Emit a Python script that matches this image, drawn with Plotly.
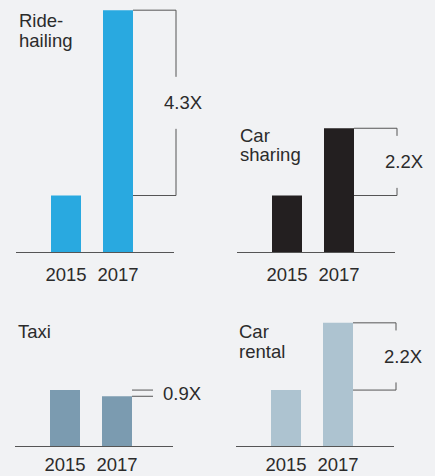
'''
    Growth of shared-mobility segments, 2015 vs 2017, as four small bar panels.
'''
import plotly.graph_objects as go

W, H = 435, 476

# data, indexed to the 2015 level of each segment
segments = ["Ride-<br>hailing", "Car<br>sharing", "Taxi", "Car<br>rental"]
years = ["2015", "2017"]
values_2015 = [1.0, 1.0, 0.99, 0.99]
values_2017 = [4.28, 2.19, 0.88, 2.18]
growth_labels = ["4.3X", "2.2X", "0.9X", "2.2X"]

COLORS = ["#29a9e0", "#231f20", "#7b9bb0", "#adc3d0"]
BG = "#f1f2f4"
TEXT = "#2b2b2b"
LINE = "#555555"
FONT = "Liberation Sans, Arial, sans-serif"
FSIZE = 18.5

PX_PER_UNIT = 56.5
# panel layout in pixels: axis-line left edge, baseline, y range max,
# centre of the first title line, title line step
PANELS = [
    dict(left=16, base=252, ymax=4.3, title_y=21, step=19),
    dict(left=237, base=252, ymax=4.3, title_y=135, step=20),
    dict(left=15, base=446, ymax=2.4, title_y=331.5, step=20),
    dict(left=236, base=446, ymax=2.4, title_y=331.5, step=20),
]
BAR_STEP = 52      # px between the two bar centres
BAR_W = 30         # px
LEFT_PAD = 50      # px from axis start to first bar centre
RIGHT_PAD = 56     # px from second bar centre to axis end


def fx(p):
    return p / W


def fy(p):
    return 1 - p / H


fig = go.Figure()
shapes = []
annotations = []

for i, panel in enumerate(PANELS):
    n = "" if i == 0 else str(i + 1)
    xa, ya = "x" + n, "y" + n
    left, base = panel["left"], panel["base"]
    right = left + LEFT_PAD + BAR_STEP + RIGHT_PAD
    height = panel["ymax"] * PX_PER_UNIT

    fig.add_trace(go.Bar(
        x=[0, 1], y=[values_2015[i], values_2017[i]],
        width=BAR_W / BAR_STEP,
        marker=dict(color=COLORS[i], line_width=0),
        xaxis=xa, yaxis=ya, hoverinfo="skip",
    ))

    fig.layout["xaxis" + n] = dict(
        domain=[fx(left), fx(right)],
        range=[-LEFT_PAD / BAR_STEP, 1 + RIGHT_PAD / BAR_STEP],
        anchor=ya, tickvals=[0, 1], ticktext=years,
        showline=True, linecolor=LINE, linewidth=1,
        showgrid=False, zeroline=False, ticks="",
        ticklabelstandoff=6 if base < 300 else 2,
        tickfont=dict(size=FSIZE, color=TEXT, family=FONT),
        fixedrange=True,
    )
    fig.layout["yaxis" + n] = dict(
        domain=[fy(base), fy(base - height)],
        range=[0, panel["ymax"]], anchor=xa,
        visible=False, fixedrange=True,
    )

    # segment title, one annotation per line (tight line spacing as in print)
    for k, line in enumerate(segments[i].split("<br>")):
        annotations.append(dict(
            text=line, xref="paper", yref="paper",
            x=fx(left + 1), y=fy(panel["title_y"] + k * panel["step"]),
            xanchor="left", yanchor="middle", showarrow=False,
            font=dict(size=FSIZE, color=TEXT, family=FONT),
        ))

    # growth bracket to the right of the 2017 bar
    v0, v1 = values_2015[i], values_2017[i]
    bar_edge = left + LEFT_PAD + BAR_STEP + BAR_W / 2
    line_style = dict(color=LINE, width=1)
    if v1 > v0:
        bx = bar_edge + 43
        mid = (v0 + v1) / 2
        gap = 26 / PX_PER_UNIT
        for y0, y1 in [(v1, mid + gap), (mid - gap, v0)]:
            shapes.append(dict(type="line", xref="paper", yref=ya,
                               x0=fx(bx), x1=fx(bx), y0=y0, y1=y1, line=line_style))
        for v in (v0, v1):
            shapes.append(dict(type="line", xref="paper", yref=ya,
                               x0=fx(bar_edge), x1=fx(bx), y0=v, y1=v, line=line_style))
        annotations.append(dict(
            text=growth_labels[i], xref="paper", yref=ya,
            x=fx(bx + 7), y=mid, xanchor="center", yanchor="middle",
            showarrow=False, font=dict(size=FSIZE, color=TEXT, family=FONT),
        ))
    else:
        for v in (v0, v1):
            shapes.append(dict(type="line", xref="paper", yref=ya,
                               x0=fx(bar_edge), x1=fx(bar_edge + 21), y0=v, y1=v,
                               line=line_style))
        annotations.append(dict(
            text=growth_labels[i], xref="paper", yref=ya,
            x=fx(bar_edge + 29), y=(v0 + v1) / 2, xanchor="left", yanchor="middle",
            showarrow=False, font=dict(size=FSIZE, color=TEXT, family=FONT),
        ))

fig.update_layout(
    width=W, height=H,
    margin=dict(l=0, r=0, t=0, b=0),
    paper_bgcolor=BG, plot_bgcolor=BG,
    showlegend=False,
    shapes=shapes,
    annotations=annotations,
    font=dict(family=FONT, color=TEXT),
)

# drop the default page margin so the 435x476 figure fills the window exactly
fig.write_html(
    "out.html",
    config={"displayModeBar": False, "staticPlot": True},
    post_script="document.body.style.margin='0';document.body.style.overflow='hidden';",
)
